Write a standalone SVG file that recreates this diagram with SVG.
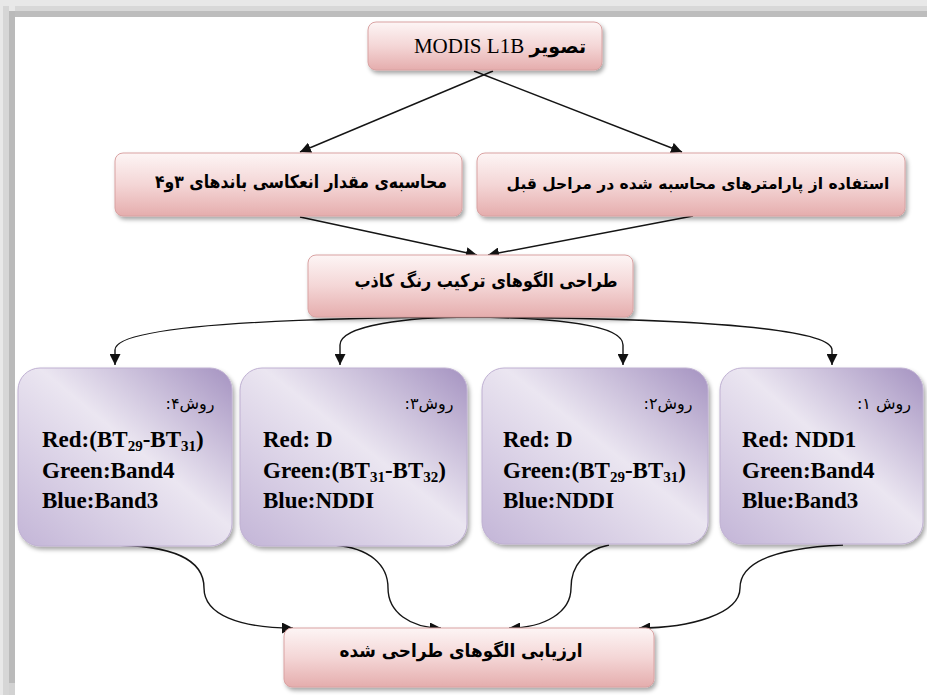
<svg xmlns="http://www.w3.org/2000/svg" width="927" height="695" viewBox="0 0 927 695">
<defs>
<linearGradient id="pink" x1="0" y1="0" x2="0" y2="1">
<stop offset="0" stop-color="#fdf5f5"/>
<stop offset="0.5" stop-color="#f4d6d6"/>
<stop offset="1" stop-color="#e5adad"/>
</linearGradient>
<linearGradient id="purple" x1="1" y1="0" x2="0" y2="1">
<stop offset="0" stop-color="#a593c1"/>
<stop offset="0.45" stop-color="#ebe6f1"/>
<stop offset="1" stop-color="#c3b5d7"/>
</linearGradient>
<filter id="sh" x="-10%" y="-10%" width="125%" height="130%">
<feDropShadow dx="2" dy="3" stdDeviation="2" flood-color="#000" flood-opacity="0.35"/>
</filter>
<marker id="ah" viewBox="0 0 10 10" refX="10" refY="5" markerWidth="11" markerHeight="11" markerUnits="userSpaceOnUse" orient="auto">
<path d="M0,0 L10,5 L0,10 z" fill="#111"/>
</marker>
</defs>
<style>
.pk{fill:url(#pink);stroke:#d9a2a2;stroke-width:1;filter:url(#sh)}
.pu{fill:url(#purple);stroke:#bfb0d2;stroke-width:1;filter:url(#sh)}
.fa{font-family:"DejaVu Sans",sans-serif;font-weight:bold;fill:#000;font-size:18px}
.fs{font-family:"DejaVu Sans",sans-serif;font-weight:bold;fill:#000;font-size:15.5px}
.lb{font-family:"DejaVu Sans",sans-serif;fill:#000;font-size:16px}
.en{font-family:"Liberation Serif",serif;font-weight:bold;fill:#000;font-size:23px}
.cn{fill:none;stroke:#151515;stroke-width:1.4;marker-end:url(#ah)}
</style>
<rect width="927" height="695" fill="#fff"/>
<rect x="0" y="0" width="927" height="17" fill="#e8e8e8"/>
<rect x="0" y="6" width="927" height="5" fill="#d8d8d8"/>
<rect x="0" y="11" width="927" height="6" fill="#bdbdbd"/>
<rect x="0" y="0" width="15" height="695" fill="#e8e8e8"/>
<rect x="3" y="6" width="6" height="689" fill="#d6d6d6"/>
<rect x="9" y="11" width="6" height="672" fill="#bababa"/>
<rect x="9" y="683" width="6" height="12" fill="#d2d2d2"/>

<g id="connectors">
<line class="cn" x1="493" y1="71" x2="300" y2="152"/>
<line class="cn" x1="474" y1="71" x2="682" y2="152"/>
<line class="cn" x1="300" y1="217" x2="477" y2="255"/>
<line class="cn" x1="693" y1="216" x2="488" y2="255"/>
<path class="cn" d="M470,317 C290,318 115,325 115,350 L115,365"/>
<path class="cn" d="M470,317 C410,317 340,325 340,345 L340,365"/>
<path class="cn" d="M470,317 C560,318 623,325 623,345 L623,365"/>
<path class="cn" d="M470,317 C650,318 832,325 832,350 L832,365"/>
<path class="cn" d="M109,545 C175,545 204,560 204,588 C204,615 240,628 293,628"/>
<path class="cn" d="M334,545 C370,548 388,565 388,588 C388,612 410,628 441,628"/>
<path class="cn" d="M609,545 C585,550 571,565 571,588 C571,612 545,628 509,628"/>
<path class="cn" d="M843,545 C775,548 740,562 740,588 C740,614 690,628 639,628"/>
</g>

<g id="n-modis">
<rect class="pk" x="368" y="22" width="234" height="48" rx="8"/>
<text x="500" y="53" text-anchor="middle" direction="rtl"><tspan class="fa" style="font-size:19px">تصویر</tspan><tspan font-family="Liberation Serif, serif" font-size="21"> MODIS L1B</tspan></text>
</g>
<g id="n-reflect">
<rect class="pk" x="115" y="153" width="347" height="63" rx="8"/>
<text class="fa" x="301" y="188" text-anchor="middle" direction="rtl" textLength="292" lengthAdjust="spacingAndGlyphs">محاسبه‌ی مقدار انعکاسی باندهای ۳و۴</text>
</g>
<g id="n-params">
<rect class="pk" x="477" y="153" width="428" height="63" rx="8"/>
<text class="fs" x="698" y="189" text-anchor="middle" direction="rtl">استفاده از پارامترهای محاسبه شده در مراحل قبل</text>
</g>
<g id="n-design">
<rect class="pk" x="308" y="255" width="325" height="62" rx="8"/>
<text class="fa" x="486" y="287" text-anchor="middle" direction="rtl" textLength="263" lengthAdjust="spacingAndGlyphs">طراحی الگوهای ترکیب رنگ کاذب</text>
</g>

<g id="n-m4">
<rect class="pu" x="18" y="368" width="214" height="178" rx="22"/>
<text class="lb" x="190" y="409" text-anchor="middle" direction="rtl">روش۴:</text>
<text class="en" x="42" y="447">Red:(BT<tspan font-size="15" dy="4">29</tspan><tspan dy="-4">-BT</tspan><tspan font-size="15" dy="4">31</tspan><tspan dy="-4">)</tspan></text>
<text class="en" x="42" y="478">Green:Band4</text>
<text class="en" x="42" y="508">Blue:Band3</text>
</g>
<g id="n-m3">
<rect class="pu" x="240" y="368" width="227" height="178" rx="22"/>
<text class="lb" x="429" y="409" text-anchor="middle" direction="rtl">روش۳:</text>
<text class="en" x="263" y="447">Red: D</text>
<text class="en" x="263" y="478">Green:(BT<tspan font-size="15" dy="4">31</tspan><tspan dy="-4">-BT</tspan><tspan font-size="15" dy="4">32</tspan><tspan dy="-4">)</tspan></text>
<text class="en" x="263" y="508">Blue:NDDI</text>
</g>
<g id="n-m2">
<rect class="pu" x="482" y="368" width="226" height="176" rx="22"/>
<text class="lb" x="668" y="409" text-anchor="middle" direction="rtl">روش۲:</text>
<text class="en" x="503" y="447">Red: D</text>
<text class="en" x="503" y="478">Green:(BT<tspan font-size="15" dy="4">29</tspan><tspan dy="-4">-BT</tspan><tspan font-size="15" dy="4">31</tspan><tspan dy="-4">)</tspan></text>
<text class="en" x="503" y="508">Blue:NDDI</text>
</g>
<g id="n-m1">
<rect class="pu" x="720" y="368" width="203" height="176" rx="22"/>
<text class="lb" x="884" y="409" text-anchor="middle" direction="rtl">روش ۱:</text>
<text class="en" x="742" y="447">Red: NDD1</text>
<text class="en" x="742" y="478">Green:Band4</text>
<text class="en" x="742" y="508">Blue:Band3</text>
</g>

<g id="n-eval">
<rect class="pk" x="284" y="628" width="370" height="59" rx="8"/>
<text class="fa" x="461" y="657" text-anchor="middle" direction="rtl" textLength="243" lengthAdjust="spacingAndGlyphs">ارزیابی الگوهای طراحی شده</text>
</g>
</svg>
